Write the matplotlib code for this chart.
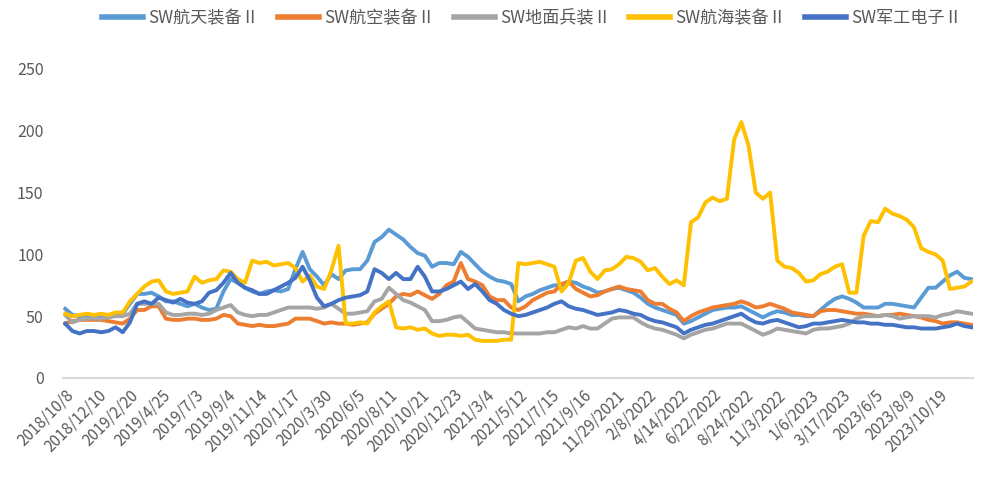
import numpy as np
import matplotlib
matplotlib.use("Agg")
import matplotlib.pyplot as plt

plt.rcParams['font.family'] = ['Noto Sans CJK SC', 'DejaVu Sans']

# trading-day offsets of the sampled points (every 10th trading day from 2018/10/8)
sample_day = np.arange(0, 1261, 10)

tick_labels = ["2018/10/8", "2018/12/10", "2019/2/20", "2019/4/25", "2019/7/3", "2019/9/4",
               "2019/11/14", "2020/1/17", "2020/3/30", "2020/6/5", "2020/8/11", "2020/10/21",
               "2020/12/23", "2021/3/4", "2021/5/12", "2021/7/15", "2021/9/16", "11/29/2021",
               "2/8/2022", "4/14/2022", "6/22/2022", "8/24/2022", "11/3/2022", "1/6/2023",
               "3/17/2023", "2023/6/5", "2023/8/9", "2023/10/19"]
tick_step = 45

aerospace = [56, 51, 50, 51, 50, 51, 50, 52, 52, 60, 68, 68, 69, 66, 62, 62, 60, 58, 60, 57,
             55, 56, 70, 80, 77, 73, 70, 68, 70, 71, 70, 72, 88, 102, 88, 82, 75, 84, 80, 87,
             88, 88, 95, 110, 114, 120, 116, 112, 106, 101, 99, 90, 93, 93, 92, 102, 98, 92, 86, 82,
             79, 78, 76, 62, 66, 68, 71, 73, 75, 75, 78, 77, 74, 72, 69, 70, 72, 73, 71, 69,
             65, 60, 57, 55, 53, 51, 44, 46, 49, 52, 55, 56, 57, 57, 58, 55, 52, 49, 52, 54,
             53, 51, 51, 50, 50, 55, 60, 64, 66, 64, 61, 57, 57, 57, 60, 60, 59, 58, 57, 65,
             73, 73, 78, 83, 86, 81, 80]

aviation = [44, 46, 47, 47, 47, 47, 46, 45, 44, 48, 55, 55, 58, 58, 48, 47, 47, 48, 48, 47,
            47, 48, 51, 50, 44, 43, 42, 43, 42, 42, 43, 44, 48, 48, 48, 46, 44, 45, 44, 44,
            43, 44, 45, 52, 56, 60, 66, 68, 67, 70, 67, 64, 68, 75, 78, 93, 80, 78, 75, 66,
            63, 63, 57, 55, 58, 63, 66, 69, 70, 76, 78, 72, 69, 66, 67, 70, 72, 74, 72, 71,
            70, 63, 60, 60, 56, 53, 46, 50, 53, 55, 57, 58, 59, 60, 62, 60, 57, 58, 60, 58,
            56, 53, 52, 51, 50, 54, 55, 55, 54, 53, 52, 52, 51, 50, 51, 51, 52, 51, 50, 49,
            47, 46, 44, 45, 45, 44, 43]

ground = [51, 45, 47, 48, 48, 48, 49, 50, 50, 52, 60, 60, 60, 60, 53, 51, 51, 52, 52, 51,
          52, 55, 57, 59, 53, 51, 50, 51, 51, 53, 55, 57, 57, 57, 57, 56, 57, 60, 56, 52,
          52, 53, 54, 62, 64, 73, 68, 63, 61, 58, 55, 46, 46, 47, 49, 50, 45, 40, 39, 38,
          37, 37, 36, 36, 36, 36, 36, 37, 37, 39, 41, 40, 42, 40, 40, 44, 48, 49, 49, 49,
          45, 42, 40, 39, 37, 35, 32, 35, 37, 39, 40, 42, 44, 44, 44, 41, 38, 35, 37, 40,
          39, 38, 37, 36, 39, 40, 40, 41, 42, 44, 48, 50, 50, 50, 51, 50, 48, 49, 50, 50,
          50, 49, 51, 52, 54, 53, 52]

marine = [52, 50, 51, 52, 51, 52, 51, 53, 53, 62, 68, 74, 78, 79, 70, 68, 69, 70, 82, 77,
          79, 80, 87, 86, 80, 77, 95, 93, 94, 91, 92, 93, 89, 78, 83, 74, 72, 87, 107, 44,
          44, 45, 44, 53, 58, 62, 41, 40, 41, 39, 40, 36, 34, 35, 35, 34, 35, 31, 30, 30,
          30, 31, 31, 93, 92, 93, 94, 92, 90, 70, 77, 95, 97, 86, 80, 87, 88, 92, 98, 97,
          94, 87, 89, 82, 76, 79, 75, 126, 130, 142, 146, 143, 145, 193, 207, 188, 150, 145, 150, 95,
          90, 89, 85, 78, 79, 84, 86, 90, 92, 69, 69, 115, 127, 126, 137, 133, 131, 128, 122, 105,
          102, 100, 95, 72, 73, 74, 78]

electronics = [44, 38, 36, 38, 38, 37, 38, 41, 37, 45, 60, 62, 60, 65, 63, 61, 64, 61, 60, 62,
               69, 71, 77, 85, 77, 73, 71, 68, 68, 71, 74, 77, 81, 90, 79, 65, 58, 60, 63, 65,
               66, 67, 70, 88, 85, 80, 85, 80, 80, 90, 82, 70, 70, 72, 75, 78, 72, 76, 70, 63,
               60, 55, 52, 50, 51, 53, 55, 57, 60, 62, 58, 56, 55, 53, 51, 52, 53, 55, 54, 52,
               51, 48, 46, 45, 43, 41, 36, 39, 41, 43, 44, 46, 48, 50, 52, 48, 45, 44, 46, 47,
               45, 43, 41, 42, 44, 44, 45, 46, 47, 46, 45, 45, 44, 44, 43, 43, 42, 41, 41, 40,
               40, 40, 41, 42, 44, 42, 41]

series = [("SW航天装备Ⅱ", aerospace, "#5B9BD5"),
          ("SW航空装备Ⅱ", aviation, "#ED7D31"),
          ("SW地面兵装Ⅱ", ground, "#A5A5A5"),
          ("SW航海装备Ⅱ", marine, "#FFC000"),
          ("SW军工电子Ⅱ", electronics, "#4472C4")]

fig = plt.figure(figsize=(9.82, 4.79), dpi=100)
ax = fig.add_axes([0.0642, 0.2109, 0.9266, 0.6451])

for name, vals, color in series:
    ax.plot(sample_day, vals, color=color, lw=2.8, label=name, solid_joinstyle='round')

ax.set_ylim(0, 250)
ax.set_xlim(-3, 1262)
ax.set_yticks(range(0, 251, 50))
ax.set_xticks(np.arange(len(tick_labels)) * tick_step)
ax.set_xticklabels(tick_labels, rotation=45, ha='right', rotation_mode='anchor')
ax.tick_params(axis='both', length=0, colors='#595959', labelsize=11)
ax.tick_params(axis='y', pad=14, labelsize=11.5)
ax.tick_params(axis='x', pad=6)
for s in ['top', 'right', 'left']:
    ax.spines[s].set_visible(False)
ax.spines['bottom'].set_color('#D9D9D9')
ax.spines['bottom'].set_linewidth(1.5)

leg = fig.legend(loc='center', bbox_to_anchor=(0.542, 0.962), ncol=5, frameon=False,
                 fontsize=12.3, handlelength=2.4, columnspacing=1.1, handletextpad=0.3,
                 labelcolor='#595959')
for h in leg.get_lines():
    h.set_linewidth(4)

fig.savefig("out.png", dpi=100)
